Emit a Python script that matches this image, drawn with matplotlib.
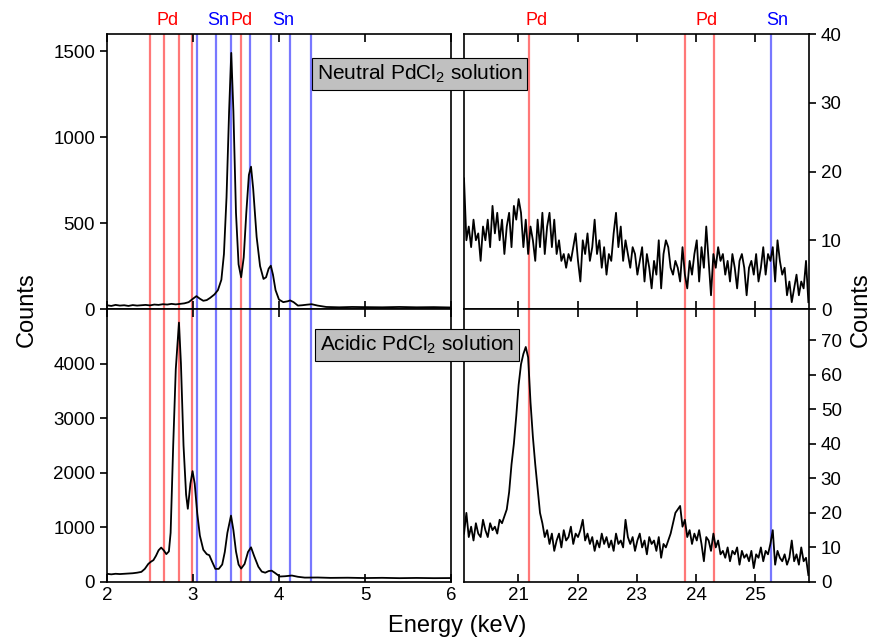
import numpy as np
import matplotlib
matplotlib.use("Agg")
import matplotlib.pyplot as plt

plt.rcParams['font.family'] = ['Liberation Sans', 'DejaVu Sans']
plt.rcParams['mathtext.fontset'] = 'custom'
plt.rcParams['mathtext.rm'] = 'Liberation Sans'

# L-line region (2-6 keV)
e_neutral_L = [2.00, 2.05, 2.10, 2.15, 2.20, 2.25, 2.30, 2.35, 2.40, 2.45, 2.50, 2.55, 2.60, 2.65,
               2.70, 2.75, 2.80, 2.85, 2.90, 2.95, 3.00, 3.04, 3.08, 3.12, 3.16, 3.20, 3.25, 3.29,
               3.33, 3.36, 3.39, 3.42, 3.445, 3.47, 3.50, 3.53, 3.56, 3.59, 3.62, 3.65, 3.675, 3.70,
               3.74, 3.78, 3.82, 3.85, 3.88, 3.905, 3.93, 3.96, 4.00, 4.05, 4.10, 4.13, 4.17, 4.22,
               4.27, 4.32, 4.38, 4.45, 4.55, 4.70, 4.85, 5.00, 5.20, 5.40, 5.60, 5.80, 6.00]
c_neutral_L = [22, 18, 24, 20, 22, 18, 23, 20, 22, 24, 21, 26, 24, 28,
               26, 30, 27, 30, 33, 40, 60, 75, 60, 48, 52, 65, 85, 110,
               170, 320, 650, 1150, 1490, 1150, 560, 260, 185, 300, 560, 780, 828, 700,
               420, 250, 175, 185, 235, 252, 200, 110, 55, 40, 45, 50, 40, 20,
               22, 25, 28, 20, 12, 10, 12, 11, 10, 12, 10, 11, 9]

e_acidic_L = [2.00, 2.05, 2.10, 2.15, 2.20, 2.25, 2.30, 2.35, 2.40, 2.44, 2.48, 2.51, 2.54, 2.57,
              2.60, 2.63, 2.66, 2.69, 2.72, 2.74, 2.77, 2.80, 2.837, 2.86, 2.89, 2.92, 2.94, 2.97,
              2.995, 3.02, 3.05, 3.08, 3.12, 3.16, 3.19, 3.22, 3.26, 3.30, 3.34, 3.37, 3.40, 3.442,
              3.47, 3.50, 3.53, 3.56, 3.60, 3.64, 3.675, 3.71, 3.76, 3.80, 3.84, 3.88, 3.915, 3.95,
              4.01, 4.07, 4.15, 4.22, 4.30, 4.45, 4.60, 4.80, 5.00, 5.20, 5.40, 5.60, 5.80, 6.00]
c_acidic_L = [150, 140, 150, 145, 150, 155, 160, 170, 185, 240, 330, 370, 400, 480,
              580, 630, 580, 510, 560, 900, 2500, 3900, 4750, 4000, 2500, 1600, 1340, 1800,
              2030, 1800, 1250, 850, 590, 510, 490, 380, 240, 240, 320, 550, 900, 1215,
              950, 560, 320, 245, 330, 550, 635, 480, 280, 190, 170, 200, 207, 170,
              100, 105, 118, 95, 80, 82, 75, 78, 72, 76, 70, 74, 70, 72]

# K-line region (20.08-25.9 keV), one value every ~0.04 keV
c_neutral_K = [19, 10, 12, 9, 13, 10, 11, 7, 12, 10,
               13, 9, 15, 11, 14, 10, 13, 8, 12, 14,
               9, 15, 13, 16, 14, 9, 13, 8, 12, 10,
               7, 13, 9, 14, 8, 12, 14, 9, 13, 8,
               10, 7, 8, 6, 8, 7, 9, 11, 7, 4,
               10, 8, 11, 7, 9, 13, 8, 10, 6, 9,
               5, 8, 7, 11, 14, 9, 12, 7, 10, 8,
               6, 9, 8, 5, 7, 9, 4, 8, 6, 3,
               7, 5, 10, 3, 8, 10, 9, 6, 5, 7,
               6, 4, 9, 5, 3, 7, 5, 8, 10, 4,
               9, 6, 12, 7, 2, 8, 6, 9, 7, 8,
               5, 7, 4, 8, 6, 3, 7, 8, 6, 2,
               6, 7, 5, 8, 4, 6, 9, 5, 8, 7,
               9, 4, 10, 7, 5, 6, 2, 4, 1, 3,
               5, 2, 4, 3, 7, 1]
c_acidic_K = [14, 20, 13, 16, 12, 17, 14, 13, 18, 15,
              13, 17, 15, 16, 14, 18, 17, 19, 21, 26,
              34, 40, 48, 57, 63, 66, 68, 65, 52, 42,
              34, 27, 20, 17, 13, 15, 11, 14, 9, 12,
              14, 10, 15, 12, 13, 16, 11, 14, 13, 15,
              18, 12, 14, 11, 13, 9, 12, 10, 14, 11,
              13, 10, 12, 9, 14, 11, 12, 10, 18, 13,
              11, 13, 9, 12, 14, 10, 12, 8, 13, 11,
              12, 9, 13, 7, 11, 10, 12, 14, 17, 20,
              21, 22, 16, 18, 13, 15, 11, 14, 12, 15,
              11, 6, 13, 12, 9, 14, 10, 12, 8, 9,
              7, 10, 6, 9, 8, 10, 5, 9, 7, 8,
              6, 9, 4, 8, 7, 10, 6, 9, 8, 11,
              15, 5, 9, 7, 6, 8, 5, 7, 12, 6,
              8, 5, 10, 6, 7, 2]
e_K = np.linspace(20.08, 25.9, len(c_neutral_K))

# emission line markers
pd_L = [2.503, 2.660, 2.838, 2.990, 3.553]
sn_L = [3.045, 3.272, 3.444, 3.663, 3.905, 4.131, 4.376]
pd_K = [21.177, 23.818, 24.299]
sn_K = [25.271]

# element labels along the top
lab_L = [(2.70, 'Pd', 'red'), (3.29, 'Sn', 'blue'), (3.57, 'Pd', 'red'), (4.05, 'Sn', 'blue')]
lab_K = [(21.3, 'Pd', 'red'), (24.18, 'Pd', 'red'), (25.37, 'Sn', 'blue')]

fig = plt.figure(figsize=(8.74, 6.43), dpi=100)
ax_tl = fig.add_axes([0.1224, 0.5194, 0.3936, 0.4277])
ax_bl = fig.add_axes([0.1224, 0.0949, 0.3936, 0.4246])
ax_tr = fig.add_axes([0.5309, 0.5194, 0.3947, 0.4277])
ax_br = fig.add_axes([0.5309, 0.0949, 0.3947, 0.4246])

for ax in (ax_tl, ax_bl):
    for e in pd_L:
        ax.axvline(e, color='#ff7878', lw=1.6, zorder=1)
    for e in sn_L:
        ax.axvline(e, color='#7878ff', lw=1.6, zorder=1)
    ax.set_xlim(2, 6)
    ax.set_xticks([2, 3, 4, 5, 6])
    ax.tick_params(axis='x', direction='in', top=True, bottom=True, length=6, width=1.2)
    ax.tick_params(axis='y', direction='out', left=True, right=False, length=5, width=1.2)

for ax in (ax_tr, ax_br):
    for e in pd_K:
        ax.axvline(e, color='#ff7878', lw=1.6, zorder=1)
    for e in sn_K:
        ax.axvline(e, color='#7878ff', lw=1.6, zorder=1)
    ax.set_xlim(20.08, 25.91)
    ax.set_xticks([21, 22, 23, 24, 25])
    ax.tick_params(axis='x', direction='in', top=True, bottom=True, length=6, width=1.2)
    ax.yaxis.tick_right()
    ax.tick_params(axis='y', direction='out', left=False, right=True, length=5, width=1.2)

ax_tl.plot(e_neutral_L, c_neutral_L, color='black', lw=1.3, zorder=3)
ax_bl.plot(e_acidic_L, c_acidic_L, color='black', lw=1.3, zorder=3)
ax_tr.plot(e_K, c_neutral_K, color='black', lw=1.3, zorder=3)
ax_br.plot(e_K, c_acidic_K, color='black', lw=1.3, zorder=3)

ax_tl.set_ylim(0, 1600)
ax_tl.set_yticks([0, 500, 1000, 1500])
ax_bl.set_ylim(0, 5000)
ax_bl.set_yticks([0, 1000, 2000, 3000, 4000])
ax_tr.set_ylim(0, 40)
ax_tr.set_yticks([0, 10, 20, 30, 40])
ax_br.set_ylim(0, 79)
ax_br.set_yticks([0, 10, 20, 30, 40, 50, 60, 70])

for ax in (ax_tl, ax_tr):
    ax.tick_params(axis='x', labelbottom=False)

for ax in (ax_tl, ax_bl, ax_tr, ax_br):
    ax.tick_params(labelsize=13.5)
    for s in ax.spines.values():
        s.set_linewidth(1.2)

for x, t, c in lab_L:
    ax_tl.text(x, 1.02, t, color=c, fontsize=13, ha='center', va='bottom',
               transform=ax_tl.get_xaxis_transform())
for x, t, c in lab_K:
    ax_tr.text(x, 1.02, t, color=c, fontsize=13, ha='center', va='bottom',
               transform=ax_tr.get_xaxis_transform())

box = dict(boxstyle='square,pad=0.22', facecolor='#c0c0c0', edgecolor='black', lw=0.8)
fig.text(0.3625, 0.885, r'Neutral PdCl$_{\mathregular{2}}$ solution', fontsize=15,
         va='center', ha='left', bbox=box, zorder=10)
fig.text(0.3660, 0.4635, r'Acidic PdCl$_{\mathregular{2}}$ solution', fontsize=15,
         va='center', ha='left', bbox=box, zorder=10)

fig.text(0.031, 0.519, 'Counts', rotation=90, fontsize=17, ha='center', va='center')
fig.text(0.985, 0.519, 'Counts', rotation=90, fontsize=17, ha='center', va='center')
fig.text(0.523, 0.027, 'Energy (keV)', fontsize=17, ha='center', va='center')

fig.savefig('out.png', dpi=100)
